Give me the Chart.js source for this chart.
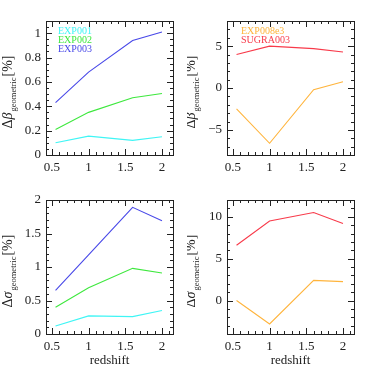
<!DOCTYPE html>
<html>
<head>
<meta charset="utf-8">
<script src="https://cdn.jsdelivr.net/npm/chart.js@4"></script>
<style>
  html, body { margin: 0; padding: 0; background: #fff; }
  #wrap { position: relative; width: 374px; height: 374px; }
  canvas { position: absolute; }
</style>
</head>
<body>
<div id="wrap">
  <canvas id="c1" width="187" height="187" style="left:0;top:0"></canvas>
  <canvas id="c2" width="187" height="187" style="left:187px;top:0"></canvas>
  <canvas id="c3" width="187" height="187" style="left:0;top:187px"></canvas>
  <canvas id="c4" width="187" height="187" style="left:187px;top:187px"></canvas>
</div>
<script>
// redshift bins
const redshift = [0.55, 1.0, 1.6, 2.0]

// delta beta geometric [%]
const betaExp001 = [0.10, 0.155, 0.12, 0.15]
const betaExp002 = [0.21, 0.35, 0.47, 0.505]
const betaExp003 = [0.43, 0.68, 0.94, 1.01]
const betaExp008e3 = [-2.5, -6.6, -0.2, 0.75]
const betaSugra003 = [4.0, 5.0, 4.7, 4.3]

// delta sigma geometric [%]
const sigmaExp001 = [0.12, 0.27, 0.26, 0.35]
const sigmaExp002 = [0.40, 0.69, 0.98, 0.91]
const sigmaExp003 = [0.65, 1.18, 1.89, 1.69]
const sigmaExp008e3 = [0.0, -2.8, 2.4, 2.25]
const sigmaSugra003 = [6.6, 9.5, 10.5, 9.2]

// tick labels
const xTicks = [0.5, 1, 1.5, 2]
const yTicksSmallBeta = [0, 0.2, 0.4, 0.6, 0.8, 1]
const yTicksBigBeta = [-5, 0, 5]
const yTicksSmallSigma = [0, 0.5, 1, 1.5, 2]
const yTicksBigSigma = [0, 5, 10]

const colors = {
    EXP001: '#3ff5f5',
    EXP002: '#3ee83e',
    EXP003: '#4848e8',
    EXP008e3: '#ffb43c',
    SUGRA003: '#f83a4a'
}

const serif = '"Liberation Serif", "DejaVu Serif", serif'

// box with inward ticks on all four sides, y title with subscript, text legend
const framePlugin = {
    id: 'frame',
    afterDatasetsDraw(chart) {
        const o = chart.options.plugins.frame
        const ctx = chart.ctx
        const a = chart.chartArea
        const xs = chart.scales.x
        const ys = chart.scales.y
        ctx.save()
        ctx.strokeStyle = '#222'
        ctx.lineWidth = 1
        ctx.strokeRect(Math.round(a.left) + 0.5, Math.round(a.top) + 0.5,
            Math.round(a.right - a.left), Math.round(a.bottom - a.top))

        const tick = (v, len, horiz) => {
            if (horiz) {
                const p = Math.round(xs.getPixelForValue(v)) + 0.5
                ctx.moveTo(p, a.bottom); ctx.lineTo(p, a.bottom - len)
                ctx.moveTo(p, a.top); ctx.lineTo(p, a.top + len)
            } else {
                const p = Math.round(ys.getPixelForValue(v)) + 0.5
                ctx.moveTo(a.left, p); ctx.lineTo(a.left + len, p)
                ctx.moveTo(a.right, p); ctx.lineTo(a.right - len, p)
            }
        }
        ctx.beginPath()
        const eps = 1e-9
        for (let i = Math.ceil(xs.min / o.xMinor - eps); i * o.xMinor <= xs.max + eps; i++) {
            const v = i * o.xMinor
            const major = Math.abs(v / o.xMajor - Math.round(v / o.xMajor)) < 1e-6
            tick(v, major ? 6 : 3, true)
        }
        for (let i = Math.ceil(ys.min / o.yMinor - eps); i * o.yMinor <= ys.max + eps; i++) {
            const v = i * o.yMinor
            const major = Math.abs(v / o.yMajor - Math.round(v / o.yMajor)) < 1e-6
            tick(v, major ? 6 : 3, false)
        }
        ctx.stroke()

        // y title: Δβ_geometric[%]
        const cy = (a.top + a.bottom) / 2 + 4
        ctx.translate(o.titleX, cy)
        ctx.rotate(-Math.PI / 2)
        ctx.fillStyle = '#222'
        ctx.textBaseline = 'alphabetic'
        const bigFont = '14px ' + serif
        const symFont = 'italic 14px ' + serif
        const subFont = '8.5px ' + serif
        ctx.font = bigFont
        const wD = ctx.measureText('Δ').width
        ctx.font = symFont
        const wS = ctx.measureText(o.sym).width
        ctx.font = subFont
        const wSub = ctx.measureText('geometric').width
        ctx.font = bigFont
        const wP = ctx.measureText('[%]').width
        let x = -(wD + wS + wSub + wP + 2) / 2
        ctx.font = bigFont
        ctx.fillText('Δ', x, 0); x += wD
        ctx.font = symFont
        ctx.fillText(o.sym, x, 0); x += wS + 1
        ctx.font = subFont
        ctx.fillText('geometric', x, 4); x += wSub + 1
        ctx.font = bigFont
        ctx.fillText('[%]', x, 0)
        ctx.setTransform(1, 0, 0, 1, 0, 0)

        // legend as coloured text
        if (o.legend) {
            ctx.font = '10px ' + serif
            ctx.textBaseline = 'middle'
            ctx.textAlign = 'left'
            o.legendOrder.forEach((name, i) => {
                ctx.fillStyle = colors[name]
                ctx.fillText(name, a.left + o.legendDx, a.top + 10 + i * 9.2)
            })
        }
        ctx.restore()
    }
}

function makeChart(id, opts) {
    const datasets = opts.series.map(s => ({
        label: s.label,
        data: redshift.map((z, i) => ({ x: z, y: s.values[i] })),
        borderColor: colors[s.label],
        backgroundColor: colors[s.label],
        borderWidth: 1.1,
        pointRadius: 0,
        tension: 0,
        fill: false
    }))
    return new Chart(document.getElementById(id), {
        type: 'line',
        data: { datasets: datasets },
        plugins: [framePlugin],
        options: {
            responsive: false,
            animation: false,
            events: [],
            layout: { padding: { left: 0, right: opts.padRight, top: opts.padTop, bottom: opts.padBottom } },
            plugins: {
                legend: { display: false },
                tooltip: { enabled: false },
                frame: {
                    sym: opts.sym, titleX: opts.titleX, legend: opts.legend, legendDx: opts.legendDx,
                    legendOrder: opts.series.map(s => s.label),
                    xMajor: 0.5, xMinor: 0.1, yMajor: opts.yMajor, yMinor: opts.yMinor
                }
            },
            scales: {
                x: {
                    type: 'linear', min: 0.42, max: 2.15,
                    grid: { display: false, drawTicks: false },
                    border: { display: false },
                    afterBuildTicks: s => { s.ticks = xTicks.map(v => ({ value: v })) },
                    afterFit: s => { s.height = opts.xHeight },
                    ticks: {
                        padding: 5, color: '#222', maxRotation: 0, autoSkip: false,
                        font: { family: serif, size: 13 },
                        callback: v => String(v)
                    },
                    title: {
                        display: opts.xTitle, text: 'redshift', color: '#222', padding: { top: 0, bottom: 0 },
                        font: { family: serif, size: 13 }
                    }
                },
                y: {
                    type: 'linear', min: opts.yMin, max: opts.yMax,
                    grid: { display: false, drawTicks: false },
                    border: { display: false },
                    afterBuildTicks: s => { s.ticks = opts.yTicks.map(v => ({ value: v })) },
                    afterFit: s => { s.width = opts.yWidth },
                    ticks: {
                        padding: 5, color: '#222', autoSkip: false,
                        font: { family: serif, size: 13 },
                        callback: v => v < 0 ? '\u2212' + String(-v) : String(v)
                    }
                }
            }
        }
    })
}

makeChart('c1', {
    series: [
        { label: 'EXP001', values: betaExp001 },
        { label: 'EXP002', values: betaExp002 },
        { label: 'EXP003', values: betaExp003 }
    ],
    sym: 'β', titleX: 12, legend: true, legendDx: 12,
    yMin: 0, yMax: 1.1, yTicks: yTicksSmallBeta, yMajor: 0.2, yMinor: 0.05,
    yWidth: 46, padRight: 14, padTop: 21, padBottom: 0, xHeight: 32, xTitle: false
})

makeChart('c2', {
    series: [
        { label: 'EXP008e3', values: betaExp008e3 },
        { label: 'SUGRA003', values: betaSugra003 }
    ],
    sym: 'β', titleX: 8, legend: true, legendDx: 14,
    yMin: -8, yMax: 8, yTicks: yTicksBigBeta, yMajor: 5, yMinor: 1,
    yWidth: 40, padRight: 20, padTop: 21, padBottom: 0, xHeight: 32, xTitle: false
})

makeChart('c3', {
    series: [
        { label: 'EXP001', values: sigmaExp001 },
        { label: 'EXP002', values: sigmaExp002 },
        { label: 'EXP003', values: sigmaExp003 }
    ],
    sym: 'σ', titleX: 12, legend: false,
    yMin: 0, yMax: 2, yTicks: yTicksSmallSigma, yMajor: 0.5, yMinor: 0.1,
    yWidth: 46, padRight: 14, padTop: 13, padBottom: 6, xHeight: 34, xTitle: true
})

makeChart('c4', {
    series: [
        { label: 'EXP008e3', values: sigmaExp008e3 },
        { label: 'SUGRA003', values: sigmaSugra003 }
    ],
    sym: 'σ', titleX: 8, legend: false,
    yMin: -4, yMax: 12, yTicks: yTicksBigSigma, yMajor: 5, yMinor: 1,
    yWidth: 40, padRight: 20, padTop: 13, padBottom: 6, xHeight: 34, xTitle: true
})
</script>
</body>
</html>
